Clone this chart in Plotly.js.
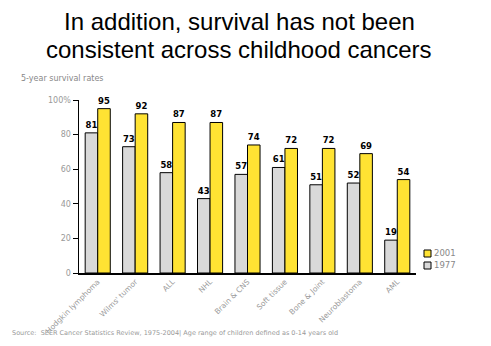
<!DOCTYPE html>
<html><head><meta charset="utf-8">
<script src="https://cdn.plot.ly/plotly-3.0.1.min.js"></script>
<style>html,body{margin:0;padding:0;background:#fff}</style>
</head><body>
<div id="chart" style="width:491px;height:346px"></div>
<script>
const categories = ["Hodgkin lymphoma","Wilms' tumor","ALL","NHL","Brain & CNS","Soft tissue","Bone & Joint","Neuroblastoma","AML"];
const values1977 = [81,73,58,43,57,61,51,52,19];
const values2001 = [95,92,87,87,74,72,72,69,54];
const yTickVals = [0,20,40,60,80,100];
const yTickText = ["0","20","40","60","80","100%"];
const seriesNames = ["1977","2001"];
const seriesColors = ["#d9d9d9","#ffe333"];

const W=491,H=346,pl=79,pr=75,pt=100,pb=73;
const pw=W-pl-pr, ph=H-pt-pb;
function px(x){return (x-pl)/pw;} function py(y){return (H-pb-y)/ph;}

const lblFont = {family:"DejaVu Sans, Verdana, sans-serif", size:8.5, color:"#000", weight:"bold"};
const traces = [
  {type:"bar", name:seriesNames[0], x:categories, y:values1977, text:values1977.map(String), textposition:"outside",
   textfont:lblFont, cliponaxis:false,
   marker:{color:seriesColors[0], line:{color:"#000", width:1}}},
  {type:"bar", name:seriesNames[1], x:categories, y:values2001, text:values2001.map(String), textposition:"outside",
   textfont:lblFont, cliponaxis:false,
   marker:{color:seriesColors[1], line:{color:"#000", width:1}}}
];
const smallFont = "DejaVu Sans, Verdana, sans-serif";
const layout = {
  width:W, height:H,
  margin:{l:pl, r:pr, t:pt, b:pb},
  paper_bgcolor:"#fff", plot_bgcolor:"#fff",
  barmode:"group", bargap:0.33, bargroupgap:0,
  showlegend:false,
  xaxis:{type:"category", tickangle:-45, showline:true, linecolor:"#000", linewidth:1.5,
    ticks:"", showgrid:false, zeroline:false,
    tickfont:{family:smallFont, size:7.5, color:"#999"}},
  yaxis:{range:[0,100], tickvals:yTickVals, ticktext:yTickText, showline:true, linecolor:"#000", linewidth:1.5,
    ticks:"outside", ticklen:5, tickcolor:"#000", showgrid:false, zeroline:false,
    tickfont:{family:smallFont, size:8, color:"#999"}},
  annotations:[
    {text:"In addition, survival has not been", xref:"paper", yref:"paper",
     x:px(239), y:py(22), xanchor:"center", yanchor:"middle", showarrow:false,
     font:{family:"Liberation Sans, Arial, sans-serif", size:24, color:"#000"}},
    {text:"consistent across childhood cancers", xref:"paper", yref:"paper",
     x:px(239), y:py(49), xanchor:"center", yanchor:"middle", showarrow:false,
     font:{family:"Liberation Sans, Arial, sans-serif", size:24, color:"#000"}},
    {text:"5-year survival rates", xref:"paper", yref:"paper", x:px(19), y:py(78), showarrow:false,
     xanchor:"left", yanchor:"middle", font:{family:smallFont, size:8, color:"#888"}},
    {text:"Source:  SEER Cancer Statistics Review, 1975-2004| Age range of children defined as 0-14 years old",
     xref:"paper", yref:"paper", x:px(10), y:py(333), showarrow:false, xanchor:"left", yanchor:"middle",
     font:{family:smallFont, size:6.5, color:"#999"}},
    {text:seriesNames[1], xref:"paper", yref:"paper", x:px(432), y:py(253), showarrow:false,
     xanchor:"left", yanchor:"middle", font:{family:smallFont, size:8.5, color:"#888"}},
    {text:seriesNames[0], xref:"paper", yref:"paper", x:px(432), y:py(265), showarrow:false,
     xanchor:"left", yanchor:"middle", font:{family:smallFont, size:8.5, color:"#888"}}
  ],
  shapes:[
    {type:"rect", xref:"paper", yref:"paper", x0:px(424), x1:px(431), y0:py(250), y1:py(257),
     fillcolor:seriesColors[1], line:{color:"#000", width:1}},
    {type:"rect", xref:"paper", yref:"paper", x0:px(424), x1:px(431), y0:py(262), y1:py(269),
     fillcolor:seriesColors[0], line:{color:"#000", width:1}}
  ]
};
Plotly.newPlot("chart", traces, layout, {displayModeBar:false, staticPlot:true});
</script>
</body></html>
